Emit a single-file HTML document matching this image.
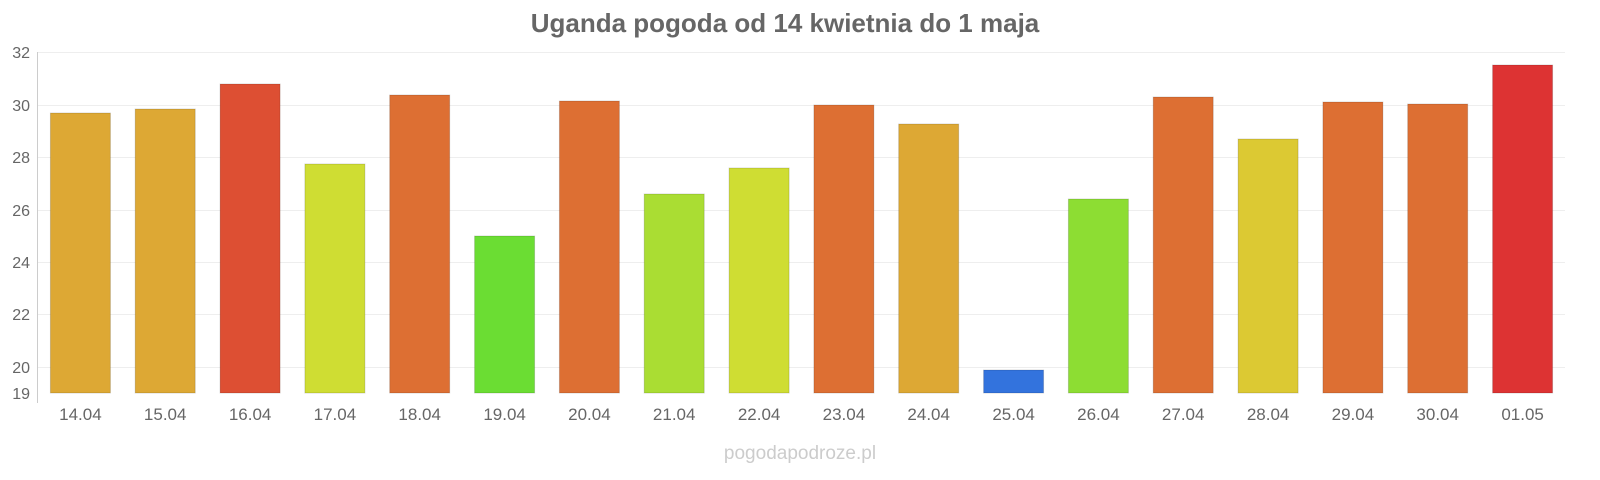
<!DOCTYPE html>
<html><head><meta charset="utf-8"><style>
body{margin:0;background:#fff;}
svg{display:block;font-family:"Liberation Sans",sans-serif;}
</style></head><body>
<svg width="1600" height="480" viewBox="0 0 1600 480">
<text x="785" y="32" text-anchor="middle" font-size="26" font-weight="bold" fill="#666">Uganda pogoda od 14 kwietnia do 1 maja</text>
<g stroke="#eee" stroke-width="1">
<line x1="38" x2="1565" y1="52.5" y2="52.5"/>
<line x1="38" x2="1565" y1="105.5" y2="105.5"/>
<line x1="38" x2="1565" y1="157.5" y2="157.5"/>
<line x1="38" x2="1565" y1="210.5" y2="210.5"/>
<line x1="38" x2="1565" y1="262.5" y2="262.5"/>
<line x1="38" x2="1565" y1="314.5" y2="314.5"/>
<line x1="38" x2="1565" y1="367.5" y2="367.5"/>
</g>
<line x1="37.5" x2="37.5" y1="52" y2="403" stroke="#ccc"/>
<g font-size="16" fill="#666" text-anchor="end">
<text x="30" y="58">32</text><text x="30" y="111">30</text><text x="30" y="163">28</text>
<text x="30" y="216">26</text><text x="30" y="268">24</text><text x="30" y="320">22</text>
<text x="30" y="373">20</text><text x="30" y="399">19</text>
</g>
<g stroke="rgba(0,0,0,0.15)" stroke-width="1">
<rect x="50.4" y="113" width="60" height="280" fill="#dda834"/>
<rect x="135.2" y="109" width="60" height="284" fill="#dda834"/>
<rect x="220.1" y="84" width="60" height="309" fill="#dd4f33"/>
<rect x="304.9" y="164" width="60" height="229" fill="#cfdd33"/>
<rect x="389.7" y="95" width="60" height="298" fill="#dd6f33"/>
<rect x="474.6" y="236" width="60" height="157" fill="#6bdd33"/>
<rect x="559.4" y="101" width="60" height="292" fill="#dd6f33"/>
<rect x="644.2" y="194" width="60" height="199" fill="#aadd33"/>
<rect x="729.1" y="168" width="60" height="225" fill="#cfdd33"/>
<rect x="813.9" y="105" width="60" height="288" fill="#dd6f33"/>
<rect x="898.7" y="124" width="60" height="269" fill="#dda834"/>
<rect x="983.6" y="370" width="60" height="23" fill="#3373dd"/>
<rect x="1068.4" y="199" width="60" height="194" fill="#8ddd33"/>
<rect x="1153.2" y="97" width="60" height="296" fill="#dd6f33"/>
<rect x="1238.1" y="139" width="60" height="254" fill="#dcc933"/>
<rect x="1322.9" y="102" width="60" height="291" fill="#dd6f33"/>
<rect x="1407.7" y="104" width="60" height="289" fill="#dd6f33"/>
<rect x="1492.6" y="65" width="60" height="328" fill="#dd3333"/>
</g>
<g font-size="17" fill="#666" text-anchor="middle">
<text x="80.4" y="420">14.04</text><text x="165.2" y="420">15.04</text><text x="250.1" y="420">16.04</text>
<text x="334.9" y="420">17.04</text><text x="419.7" y="420">18.04</text><text x="504.6" y="420">19.04</text>
<text x="589.4" y="420">20.04</text><text x="674.2" y="420">21.04</text><text x="759.1" y="420">22.04</text>
<text x="843.9" y="420">23.04</text><text x="928.7" y="420">24.04</text><text x="1013.6" y="420">25.04</text>
<text x="1098.4" y="420">26.04</text><text x="1183.2" y="420">27.04</text><text x="1268.1" y="420">28.04</text>
<text x="1352.9" y="420">29.04</text><text x="1437.7" y="420">30.04</text><text x="1522.6" y="420">01.05</text>
</g>
<text x="800" y="459" text-anchor="middle" font-size="19" fill="#ccc">pogodapodroze.pl</text>
</svg>
</body></html>
